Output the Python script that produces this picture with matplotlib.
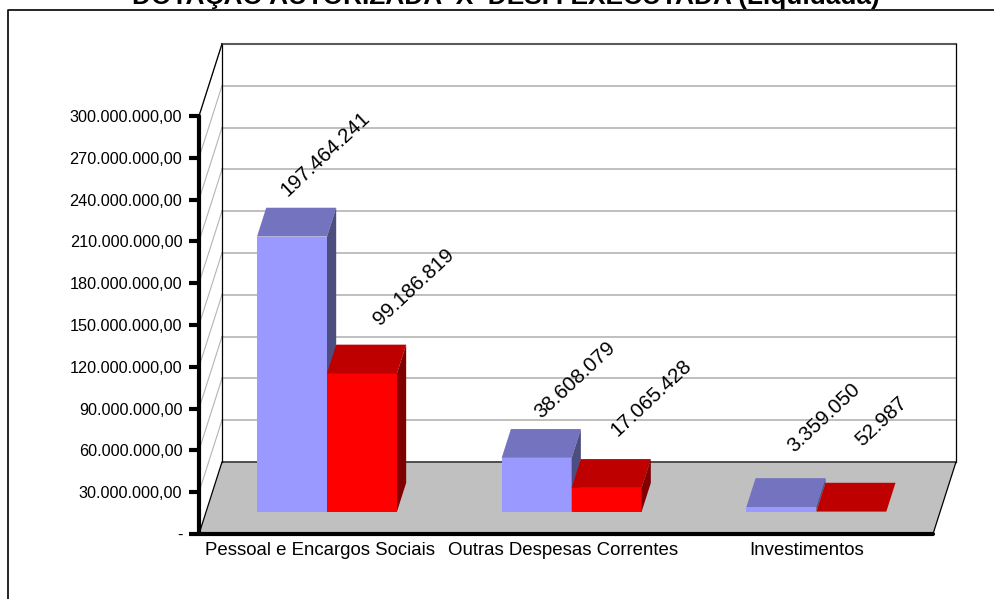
import matplotlib
matplotlib.use('Agg')
import matplotlib.pyplot as plt
from matplotlib.lines import Line2D
from matplotlib.patches import Polygon

plt.rcParams['font.family'] = ['Liberation Sans', 'DejaVu Sans']

# ---------------------------- data
categories = ['Pessoal e Encargos Sociais', 'Outras Despesas Correntes', 'Investimentos']
autorizada = [197464241, 38608079, 3359050]
executada = [99186819, 17065428, 52987]
autorizada_labels = ['197.464.241', '38.608.079', '3.359.050']
executada_labels = ['99.186.819', '17.065.428', '52.987']
yticks = [0, 30e6, 60e6, 90e6, 120e6, 150e6, 180e6, 210e6, 240e6, 270e6, 300e6]
ytick_labels = ['-', '30.000.000,00', '60.000.000,00', '90.000.000,00', '120.000.000,00',
                '150.000.000,00', '180.000.000,00', '210.000.000,00', '240.000.000,00',
                '270.000.000,00', '300.000.000,00']
title = 'DOTAÇÃO AUTORIZADA  X  DESP. EXECUTADA (Liquidada)'

# ---------------------------- oblique 3d look
# full depth of the box, in data units (23 px across, 72 px up)
DX = 0.094
DY = 51.7e6
BAR_W = 0.286
FRONT, BACK = 0.31, 0.71
SHIFT = -0.006


def proj(x, d, v):
    return (x + d * DX, v + d * DY)


def poly(ax, pts, color, edge='none', lw=0.0, z=2):
    ax.add_patch(Polygon(pts, closed=True, facecolor=color, edgecolor=edge,
                         linewidth=lw, zorder=z, clip_on=False))


def bar3d(ax, x0, v, front, top, side, z):
    x1 = x0 + BAR_W
    poly(ax, [proj(x0, FRONT, 0), proj(x1, FRONT, 0), proj(x1, FRONT, v), proj(x0, FRONT, v)], front, z=z)
    poly(ax, [proj(x0, FRONT, v), proj(x1, FRONT, v), proj(x1, BACK, v), proj(x0, BACK, v)], top, z=z)
    poly(ax, [proj(x1, FRONT, 0), proj(x1, BACK, 0), proj(x1, BACK, v), proj(x1, FRONT, v)], side, z=z)


fig = plt.figure(figsize=(9.94, 5.99), dpi=100)
ax = fig.add_axes([199 / 994, 65 / 599, 734 / 994, 418 / 599])
ax.set_xlim(0, 3)
ax.set_ylim(0, 300e6)
ax.patch.set_alpha(0)

# chart frame, runs off the top right of the picture
fig.add_artist(Line2D([8 / 994, 8 / 994, 1], [0, 1 - 10 / 599, 1 - 10 / 599], color='black', lw=1.2))
fig.text(506 / 994, 1 - 4 / 599, title, ha='center', va='baseline', fontsize=18.9, fontweight='bold')

# walls and floor
grid = '#b4b4b4'
for v in yticks[1:]:
    a = proj(0, 0, v)
    b = proj(0, 1, v)
    ax.plot([a[0], b[0]], [a[1], b[1]], color=grid, lw=0.8, zorder=1, clip_on=False)
    c = proj(3, 1, v)
    ax.plot([b[0], c[0]], [b[1], c[1]], color=grid, lw=1.2, zorder=1, clip_on=False)

poly(ax, [proj(0, 0, 0), proj(3, 0, 0), proj(3, 1, 0), proj(0, 1, 0)], '#c0c0c0', edge='black', lw=0.9, z=1.5)
# back wall outline
xs, ys = zip(proj(0, 1, 0), proj(0, 1, 300e6), proj(3, 1, 300e6), proj(3, 1, 0))
ax.plot(xs[:2], ys[:2], color='black', lw=0.9, zorder=1.6, clip_on=False)
ax.plot(xs[1:3], ys[1:3], color='#5a5a5a', lw=1.5, zorder=1.6, clip_on=False)
ax.plot(xs[2:], ys[2:], color='black', lw=0.9, zorder=1.6, clip_on=False)
# left wall edge on top
a, b = proj(0, 0, 300e6), proj(0, 1, 300e6)
ax.plot([a[0], b[0]], [a[1], b[1]], color='black', lw=0.9, zorder=1.6, clip_on=False)

# bars
for i in range(len(categories)):
    c = i + 0.5 + SHIFT
    bar3d(ax, c - BAR_W, autorizada[i], '#9999ff', '#7373bf', '#4d4d80', 3 + i)
    bar3d(ax, c, executada[i], '#ff0000', '#bf0000', '#800000', 3.5 + i)

# data labels, pixel offset from the centre of the back edge of each bar top
offs_a = [(24, 54), (29, 49), (33, 60)]
offs_e = [(43, 58), (35, 61), (21, 61)]
for i in range(len(categories)):
    c = i + 0.5 + SHIFT
    for x0, v, txt, off in [(c - BAR_W, autorizada[i], autorizada_labels[i], offs_a[i]),
                            (c, executada[i], executada_labels[i], offs_e[i])]:
        ax.annotate(txt, xy=proj(x0 + BAR_W / 2, BACK, v), xytext=off, textcoords='offset pixels',
                    rotation=43, rotation_mode='anchor', ha='center', va='center',
                    fontsize=14.8, zorder=10, annotation_clip=False)

# axes
for s in ['top', 'right']:
    ax.spines[s].set_visible(False)
for s in ['left', 'bottom']:
    ax.spines[s].set_linewidth(3)
    ax.spines[s].set_capstyle('round')
    ax.spines[s].set_zorder(8)
ax.set_yticks(yticks)
ax.set_yticklabels(ytick_labels, fontsize=11.7)
ax.tick_params(axis='y', length=7, width=3, pad=5, direction='out')
ax.set_xticks([0.495, 1.49, 2.485])
ax.set_xticklabels(categories, fontsize=13.4)
ax.tick_params(axis='x', length=0, pad=6)

fig.savefig('out.png', dpi=100)
